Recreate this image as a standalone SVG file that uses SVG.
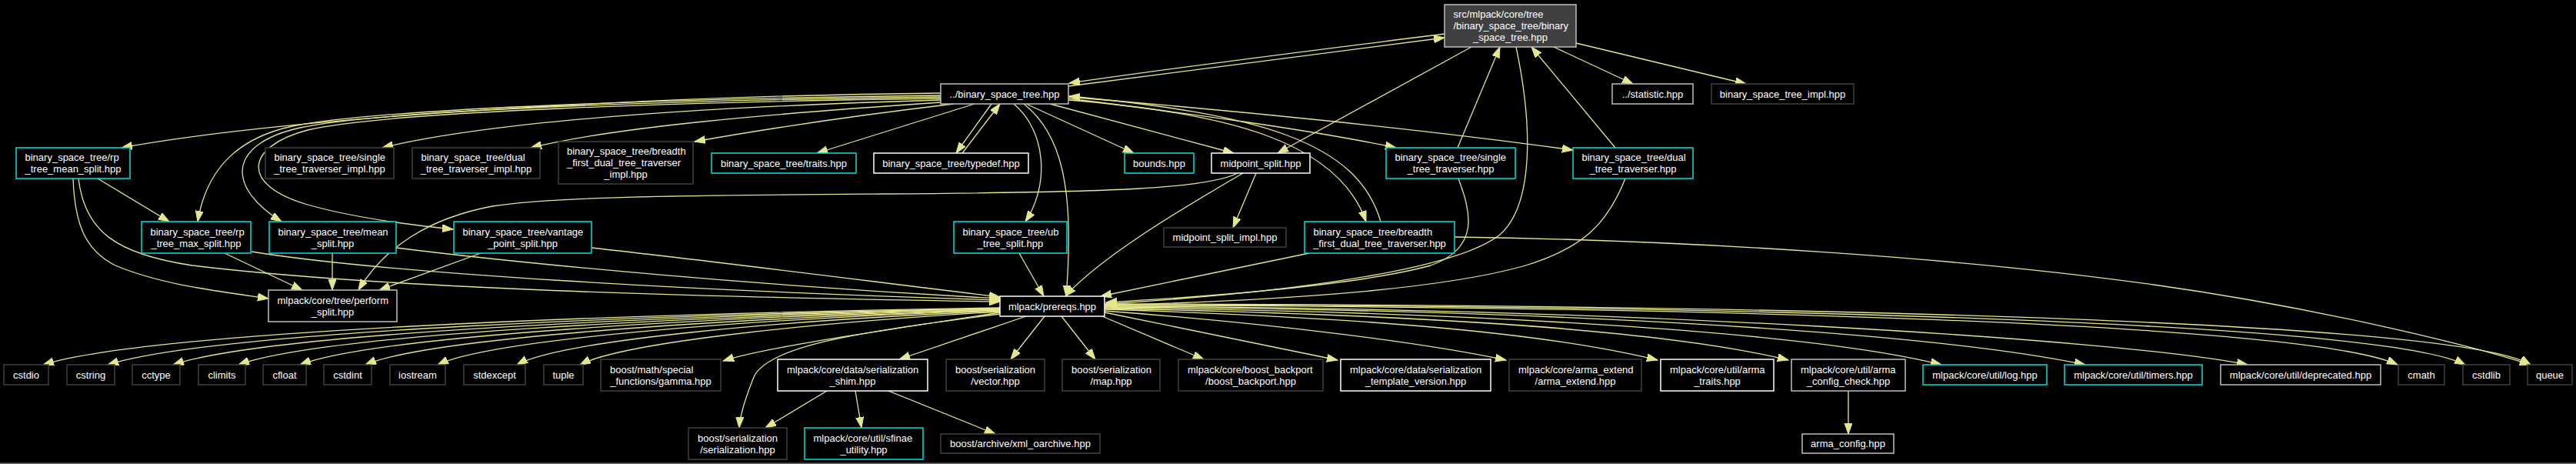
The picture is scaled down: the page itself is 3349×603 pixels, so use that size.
<svg xmlns="http://www.w3.org/2000/svg" width="3349" height="603" viewBox="0 0 3349 603">
<style>
text{font-family:"Liberation Sans",Arial,Helvetica,sans-serif;font-size:13px;fill:#fff}
.m{text-anchor:middle}
.s{text-anchor:start}
rect{fill:#000;stroke-width:1.5}
.w{stroke:#fff}
.g{stroke:#bfbfbf}
.c{stroke:#00e0e0}
.d{stroke:#404040}
.root{fill:#404040;stroke:#bfbfbf}
.e path{fill:none;stroke:#e6e68f;stroke-width:1.3;marker-end:url(#ah)}
</style>
<defs>
<marker id="ah" markerUnits="userSpaceOnUse" markerWidth="15" markerHeight="11" refX="14" refY="5" orient="auto">
<path d="M0,0 L14,5 L0,10 z" fill="#e6e68f" stroke="#e6e68f" stroke-width="1"/>
</marker>
</defs>
<rect x="0" y="0" width="3349" height="603" style="fill:#000;stroke:none"/>
<rect x="0" y="601.5" width="3349" height="1.5" style="fill:#6e6e6e;stroke:none"/>

<g id="edges" class="e">
<path d="M1878,44 C1720,64 1540,86 1390,108"/>
<path d="M1389,112 C1540,92 1720,70 1878,49"/>
<path d="M2020,61 L2123,109"/>
<path d="M2049,56 L2270,109"/>
<path d="M1913,61 L1661,199"/>
<path d="M1971,61 C1992,160 1995,265 1950,305 C1880,360 1600,385 1438,395"/>
<path d="M1895,192 L1950,61"/>
<path d="M2100,192 L1991,61"/>
<path d="M1223,121 C900,124 400,148 158,192"/>
<path d="M1223,124 C900,128 500,140 380,164 C320,177 270,210 257,288"/>
<path d="M1223,126 C900,130 500,142 390,166 C300,186 290,240 366,288"/>
<path d="M1223,128 C900,132 500,145 400,169 C320,190 310,240 400,266 C460,283 530,292 589,298"/>
<path d="M1223,130 C950,138 650,155 497,192"/>
<path d="M1223,133 C1000,148 800,165 690,192"/>
<path d="M1240,135 C1130,148 1010,165 903,184"/>
<path d="M1267,135 L1062,199"/>
<path d="M1289,135 L1243,199"/>
<path d="M1251,199 L1300,135"/>
<path d="M1334,135 L1474,199"/>
<path d="M1365,135 L1604,199"/>
<path d="M1389,128 C1550,148 1700,168 1815,192"/>
<path d="M1389,126 C1600,143 1850,168 2045,195"/>
<path d="M1389,130 C1600,147 1740,185 1776,288"/>
<path d="M1795,288 C1765,185 1640,148 1390,125"/>
<path d="M1318,135 C1360,170 1365,240 1333,288"/>
<path d="M1331,135 C1378,172 1398,240 1386,385"/>
<path d="M1633,225 L1603,296"/>
<path d="M1616,225 C1530,275 1430,335 1385,385"/>
<path d="M1609,225 C1570,245 1450,250 1150,252 C900,254 720,255 640,268 C560,283 500,320 466,377"/>
<path d="M1325,329 L1357,385"/>
<path d="M1702,329 L1431,385"/>
<path d="M1891,308 C2200,312 2550,335 2800,370 C3000,398 3200,445 3290,474"/>
<path d="M1896,232 C1912,275 1925,322 1860,345 C1760,372 1560,386 1438,393"/>
<path d="M2113,232 C2090,290 2060,322 1980,346 C1850,382 1600,392 1438,397"/>
<path d="M127,232 L220,288"/>
<path d="M95,232 C97,290 110,325 150,345 C210,370 280,378 349,388"/>
<path d="M102,232 C110,300 150,330 250,345 C500,375 900,386 1300,392"/>
<path d="M292,329 L393,377"/>
<path d="M327,327 C500,355 900,378 1300,390"/>
<path d="M432,329 L432,377"/>
<path d="M515,322 C700,345 1000,372 1300,388"/>
<path d="M625,329 L493,377"/>
<path d="M769,322 C950,342 1150,368 1300,386"/>
<path d="M1300,400 C800,408 200,430 56,474"/>
<path d="M1300,401 C850,409 280,430 140,474"/>
<path d="M1300,401 C880,410 350,432 225,474"/>
<path d="M1300,402 C900,411 420,434 310,474"/>
<path d="M1300,402 C930,412 490,436 390,474"/>
<path d="M1300,403 C960,413 560,438 475,474"/>
<path d="M1300,403 C990,414 640,440 569,474"/>
<path d="M1300,404 C1020,416 730,442 672,474"/>
<path d="M1300,405 C1050,420 810,445 754,474"/>
<path d="M1300,406 C1150,430 1000,450 940,469"/>
<path d="M1300,408 C1150,428 1000,445 980,490 C968,520 962,540 961,556"/>
<path d="M1334,411 L1169,467"/>
<path d="M1358,411 L1314,467"/>
<path d="M1380,411 L1424,467"/>
<path d="M1433,411 L1565,467"/>
<path d="M1436,406 C1550,430 1650,450 1739,468"/>
<path d="M1436,404 C1650,420 1850,445 1958,468"/>
<path d="M1436,402 C1750,412 2000,430 2155,468"/>
<path d="M1436,401 C1800,408 2150,425 2325,468"/>
<path d="M1436,400 C1900,405 2350,430 2524,474"/>
<path d="M1436,399 C2000,402 2500,430 2711,474"/>
<path d="M1436,398 C2100,400 2750,440 2922,474"/>
<path d="M1436,397 C2200,398 3000,420 3117,474"/>
<path d="M1436,396 C2300,397 3100,420 3205,474"/>
<path d="M1436,395 C2400,396 3200,420 3290,474"/>
<path d="M1075,508 L995,556"/>
<path d="M1112,508 L1120,556"/>
<path d="M1155,508 L1294,564"/>
<path d="M2403,508 L2403,564"/>
</g>

<g id="node-root"><rect class="root" x="1878" y="6" width="171" height="55"/><text class="s" x="1889.5" y="23">src/mlpack/core/tree</text><text class="s" x="1889.5" y="38">/binary_space_tree/binary</text><text class="m" x="1963.5" y="53">_space_tree.hpp</text></g>
<g id="node-bst"><rect class="g" x="1223" y="109" width="166" height="26"/><text class="m" x="1306" y="126.5">../binary_space_tree.hpp</text></g>
<g id="node-statistic"><rect class="g" x="2096" y="109" width="105" height="26"/><text class="m" x="2148.5" y="126.5">../statistic.hpp</text></g>
<g id="node-bst-impl"><rect class="d" x="2225" y="109" width="185" height="26"/><text class="m" x="2317.5" y="126.5">binary_space_tree_impl.hpp</text></g>

<g id="node-rp-mean"><rect class="c" x="21" y="192" width="148" height="40"/><text class="s" x="32.5" y="209">binary_space_tree/rp</text><text class="m" x="95" y="224">_tree_mean_split.hpp</text></g>
<g id="node-single-impl"><rect class="d" x="345" y="192" width="167" height="40"/><text class="s" x="356.5" y="209">binary_space_tree/single</text><text class="m" x="428.5" y="224">_tree_traverser_impl.hpp</text></g>
<g id="node-dual-impl"><rect class="d" x="536" y="192" width="166" height="40"/><text class="s" x="547.5" y="209">binary_space_tree/dual</text><text class="m" x="619" y="224">_tree_traverser_impl.hpp</text></g>
<g id="node-bf-impl"><rect class="d" x="726" y="184" width="175" height="55"/><text class="s" x="737" y="201">binary_space_tree/breadth</text><text class="s" x="737" y="216">_first_dual_tree_traverser</text><text class="m" x="813.5" y="231">_impl.hpp</text></g>
<g id="node-traits"><rect class="c" x="925" y="199" width="188" height="26"/><text class="m" x="1019" y="216.5">binary_space_tree/traits.hpp</text></g>
<g id="node-typedef"><rect class="w" x="1136" y="199" width="201" height="26"/><text class="m" x="1236.5" y="216.5">binary_space_tree/typedef.hpp</text></g>
<g id="node-bounds"><rect class="c" x="1462" y="199" width="90" height="26"/><text class="m" x="1507" y="216.5">bounds.hpp</text></g>
<g id="node-midpoint"><rect class="w" x="1575" y="199" width="128" height="26"/><text class="m" x="1639" y="216.5">midpoint_split.hpp</text></g>
<g id="node-single"><rect class="c" x="1802" y="192" width="168" height="40"/><text class="s" x="1813.5" y="209">binary_space_tree/single</text><text class="m" x="1886" y="224">_tree_traverser.hpp</text></g>
<g id="node-dual"><rect class="c" x="2045" y="192" width="156" height="40"/><text class="s" x="2056.5" y="209">binary_space_tree/dual</text><text class="m" x="2123" y="224">_tree_traverser.hpp</text></g>

<g id="node-rp-max"><rect class="c" x="184" y="288" width="142" height="41"/><text class="s" x="195.5" y="305.5">binary_space_tree/rp</text><text class="m" x="255" y="320.5">_tree_max_split.hpp</text></g>
<g id="node-mean"><rect class="c" x="350" y="288" width="165" height="41"/><text class="s" x="361.5" y="305.5">binary_space_tree/mean</text><text class="m" x="432.5" y="320.5">_split.hpp</text></g>
<g id="node-vantage"><rect class="c" x="590" y="288" width="179" height="41"/><text class="s" x="601.5" y="305.5">binary_space_tree/vantage</text><text class="m" x="679.5" y="320.5">_point_split.hpp</text></g>
<g id="node-ub"><rect class="c" x="1240" y="288" width="147" height="41"/><text class="s" x="1251.5" y="305.5">binary_space_tree/ub</text><text class="m" x="1313.5" y="320.5">_tree_split.hpp</text></g>
<g id="node-midpoint-impl"><rect class="d" x="1513" y="296" width="159" height="25"/><text class="m" x="1592.5" y="313">midpoint_split_impl.hpp</text></g>
<g id="node-bf"><rect class="c" x="1696" y="288" width="195" height="41"/><text class="s" x="1707.5" y="305.5">binary_space_tree/breadth</text><text class="m" x="1793.5" y="320.5">_first_dual_tree_traverser.hpp</text></g>

<g id="node-perform"><rect class="g" x="349" y="377" width="167" height="41"/><text class="s" x="360.5" y="394.5">mlpack/core/tree/perform</text><text class="m" x="432.5" y="409.5">_split.hpp</text></g>
<g id="node-prereqs"><rect class="w" x="1300" y="385" width="136" height="26"/><text class="m" x="1368" y="402.5">mlpack/prereqs.hpp</text></g>

<g id="node-cstdio"><rect class="d" x="5" y="474" width="58" height="26"/><text class="m" x="34" y="491.5">cstdio</text></g>
<g id="node-cstring"><rect class="d" x="87" y="474" width="62" height="26"/><text class="m" x="118" y="491.5">cstring</text></g>
<g id="node-cctype"><rect class="d" x="172" y="474" width="62" height="26"/><text class="m" x="203" y="491.5">cctype</text></g>
<g id="node-climits"><rect class="d" x="258" y="474" width="61" height="26"/><text class="m" x="288.5" y="491.5">climits</text></g>
<g id="node-cfloat"><rect class="d" x="342" y="474" width="56" height="26"/><text class="m" x="370" y="491.5">cfloat</text></g>
<g id="node-cstdint"><rect class="d" x="421" y="474" width="62" height="26"/><text class="m" x="452" y="491.5">cstdint</text></g>
<g id="node-iostream"><rect class="d" x="507" y="474" width="72" height="26"/><text class="m" x="543" y="491.5">iostream</text></g>
<g id="node-stdexcept"><rect class="d" x="603" y="474" width="80" height="26"/><text class="m" x="643" y="491.5">stdexcept</text></g>
<g id="node-tuple"><rect class="d" x="707" y="474" width="51" height="26"/><text class="m" x="732.5" y="491.5">tuple</text></g>
<g id="node-gamma"><rect class="d" x="781" y="467" width="156" height="41"/><text class="s" x="793" y="484.5">boost/math/special</text><text class="m" x="859" y="499.5">_functions/gamma.hpp</text></g>
<g id="node-shim"><rect class="w" x="1011" y="467" width="195" height="41"/><text class="s" x="1023" y="484.5">mlpack/core/data/serialization</text><text class="m" x="1108.5" y="499.5">_shim.hpp</text></g>
<g id="node-vector"><rect class="d" x="1230" y="467" width="128" height="41"/><text class="s" x="1242" y="484.5">boost/serialization</text><text class="m" x="1294" y="499.5">/vector.hpp</text></g>
<g id="node-map"><rect class="d" x="1381" y="467" width="127" height="41"/><text class="s" x="1393" y="484.5">boost/serialization</text><text class="m" x="1444.5" y="499.5">/map.hpp</text></g>
<g id="node-backport"><rect class="d" x="1532" y="467" width="188" height="41"/><text class="s" x="1544" y="484.5">mlpack/core/boost_backport</text><text class="m" x="1626" y="499.5">/boost_backport.hpp</text></g>
<g id="node-template-version"><rect class="w" x="1743" y="467" width="195" height="41"/><text class="s" x="1755" y="484.5">mlpack/core/data/serialization</text><text class="m" x="1840.5" y="499.5">_template_version.hpp</text></g>
<g id="node-arma-extend"><rect class="d" x="1962" y="467" width="172" height="41"/><text class="s" x="1974" y="484.5">mlpack/core/arma_extend</text><text class="m" x="2048" y="499.5">/arma_extend.hpp</text></g>
<g id="node-arma-traits"><rect class="w" x="2159" y="467" width="147" height="41"/><text class="s" x="2171" y="484.5">mlpack/core/util/arma</text><text class="m" x="2232.5" y="499.5">_traits.hpp</text></g>
<g id="node-arma-config-check"><rect class="g" x="2329" y="467" width="148" height="41"/><text class="s" x="2341" y="484.5">mlpack/core/util/arma</text><text class="m" x="2403" y="499.5">_config_check.hpp</text></g>
<g id="node-log"><rect class="c" x="2500" y="474" width="161" height="26"/><text class="m" x="2580.5" y="491.5">mlpack/core/util/log.hpp</text></g>
<g id="node-timers"><rect class="c" x="2684" y="474" width="179" height="26"/><text class="m" x="2773.5" y="491.5">mlpack/core/util/timers.hpp</text></g>
<g id="node-deprecated"><rect class="g" x="2887" y="474" width="208" height="26"/><text class="m" x="2991" y="491.5">mlpack/core/util/deprecated.hpp</text></g>
<g id="node-cmath"><rect class="d" x="3118" y="474" width="60" height="26"/><text class="m" x="3148" y="491.5">cmath</text></g>
<g id="node-cstdlib"><rect class="d" x="3202" y="474" width="61" height="26"/><text class="m" x="3232.5" y="491.5">cstdlib</text></g>
<g id="node-queue"><rect class="d" x="3286" y="474" width="58" height="26"/><text class="m" x="3315" y="491.5">queue</text></g>

<g id="node-serialization"><rect class="d" x="895" y="556" width="128" height="41"/><text class="s" x="907" y="573.5">boost/serialization</text><text class="m" x="959" y="588.5">/serialization.hpp</text></g>
<g id="node-sfinae"><rect class="c" x="1046" y="556" width="154" height="41"/><text class="s" x="1057.5" y="573.5">mlpack/core/util/sfinae</text><text class="m" x="1123" y="588.5">_utility.hpp</text></g>
<g id="node-xml-oarchive"><rect class="d" x="1223" y="564" width="207" height="25"/><text class="m" x="1326.5" y="581">boost/archive/xml_oarchive.hpp</text></g>
<g id="node-arma-config"><rect class="g" x="2343" y="564" width="119" height="25"/><text class="m" x="2402.5" y="581">arma_config.hpp</text></g>
</svg>
